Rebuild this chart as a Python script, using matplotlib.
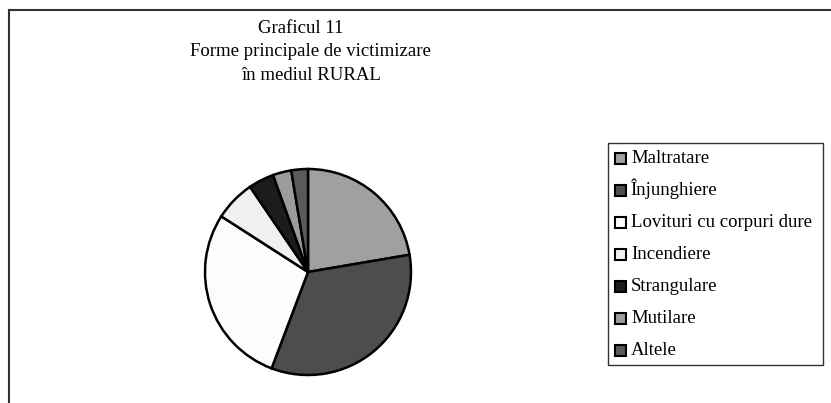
import matplotlib
matplotlib.use("Agg")
import matplotlib.pyplot as plt
from matplotlib.lines import Line2D
from matplotlib.patches import Rectangle

plt.rcParams['font.family'] = ['Liberation Serif', 'DejaVu Serif']

# data (percent of total)
categories = ["Maltratare", "Înjunghiere", "Lovituri cu corpuri dure", "Incendiere",
              "Strangulare", "Mutilare", "Altele"]
values = [22.3, 33.4, 28.3, 6.4, 4.0, 2.9, 2.6]
colors = ["#a0a0a0", "#4d4d4d", "#fcfcfc", "#f0f0f0", "#1c1c1c", "#9c9c9c", "#5a5a5a"]
title_lines = ["Graficul 11", "Forme principale de victimizare", "în mediul RURAL"]

W, H = 831, 403
fig = plt.figure(figsize=(W / 100, H / 100), dpi=100)

def fx(px):
    return px / W

def fy(py):
    return 1 - py / H

# outer frame (only left and top edges are visible in the reference)
fig.add_artist(Line2D([fx(9), fx(9)], [0, fy(10)], color="#333333", lw=1.5))
fig.add_artist(Line2D([fx(9), 1], [fy(10), fy(10)], color="#333333", lw=1.5))

# title
title_x = [301, 310, 311]
title_base = [33, 56, 80]
for line, x, y in zip(title_lines, title_x, title_base):
    fig.text(fx(x), fy(y), line, ha="center", va="baseline", fontsize=13.5)

# pie
cx, cy, r = 308, 272, 103
pad = 1.05
ax = fig.add_axes([fx(cx - r * pad), (H - cy - r * pad) / H, 2 * r * pad / W, 2 * r * pad / H])
wedges, _ = ax.pie(values, colors=colors, startangle=90, counterclock=False,
                   wedgeprops=dict(edgecolor="black", linewidth=1.8))
ax.set_xlim(-pad, pad)
ax.set_ylim(-pad, pad)
ax.set_aspect("equal")

# legend box, drawn by hand so rows are evenly spaced
fig.add_artist(Rectangle((fx(608), fy(365)), fx(823) - fx(608), fy(143) - fy(365),
                         transform=fig.transFigure, facecolor="white",
                         edgecolor="#333333", lw=1.0))
sq = 11
for i, (name, c) in enumerate(zip(categories, colors)):
    ry = 158 + 32 * i
    fig.add_artist(Rectangle((fx(615), fy(ry + sq / 2)), sq / W, sq / H,
                             transform=fig.transFigure, facecolor=c,
                             edgecolor="black", lw=1.5))
    fig.text(fx(631), fy(ry + 5), name, ha="left", va="baseline", fontsize=13.5)

fig.savefig("out.png", dpi=100)
